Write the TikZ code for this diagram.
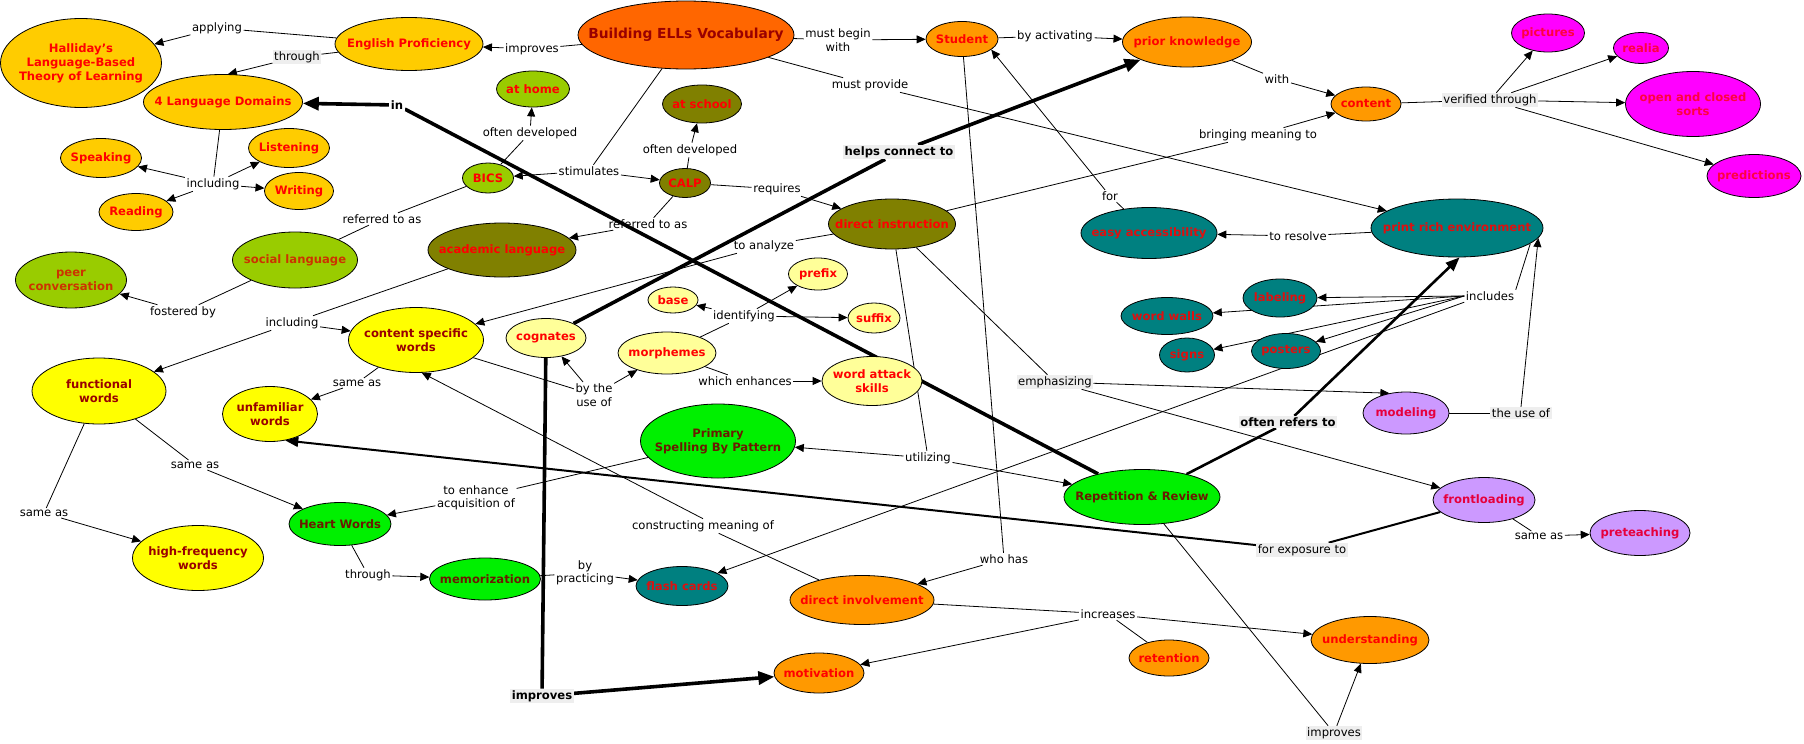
\documentclass[tikz,border=0pt]{standalone}
\usepackage{fontspec}
\setmainfont{DejaVu Sans}
\usetikzlibrary{shapes.geometric,arrows.meta,backgrounds}

\definecolor{cgold}{HTML}{FFCC00}
\definecolor{corange}{HTML}{FF9900}
\definecolor{cdeep}{HTML}{FF6600}
\definecolor{clime}{HTML}{99CC00}
\definecolor{colive}{HTML}{808000}
\definecolor{cyellow}{HTML}{FFFF00}
\definecolor{cpale}{HTML}{FFFF99}
\definecolor{cgreen}{HTML}{00F000}
\definecolor{cteal}{HTML}{008080}
\definecolor{cmagenta}{HTML}{FF00FF}
\definecolor{cpurple}{HTML}{CC99FF}
\definecolor{tred}{HTML}{FF0000}
\definecolor{tmaroon}{HTML}{990000}
\definecolor{tbrown}{HTML}{6B1A00}
\definecolor{tsoc}{HTML}{CC3300}
\definecolor{tteal}{HTML}{DD1010}
\definecolor{tpink}{HTML}{FF0040}
\definecolor{tcrim}{HTML}{E6003C}
\definecolor{lgray}{HTML}{EEEEEE}

\tikzset{
  concept/.style={ellipse, draw=black, line width=0.8pt, inner sep=0pt},
  sz/.style 2 args={minimum width=#1, minimum height=#2},
  goldc/.style={concept, fill=cgold},
  orangec/.style={concept, fill=corange},
  limec/.style={concept, fill=clime},
  olivec/.style={concept, fill=colive},
  yellowc/.style={concept, fill=cyellow},
  palec/.style={concept, fill=cpale},
  greenc/.style={concept, fill=cgreen},
  tealc/.style={concept, fill=cteal},
  magentac/.style={concept, fill=cmagenta},
  purplec/.style={concept, fill=cpurple},
  ctext/.style={font=\bfseries\fontsize{11.6}{14}\selectfont, align=center, inner sep=0pt},
  redtxt/.style={ctext, text=tred},
  maroontxt/.style={ctext, text=tmaroon},
  browntxt/.style={ctext, text=tbrown},
  soctxt/.style={ctext, text=tsoc},
  tealtxt/.style={ctext, text=tteal},
  pinktxt/.style={ctext, text=tpink},
  crimtxt/.style={ctext, text=tcrim},
  link/.style={font=\fontsize{11.6}{13.5}\selectfont, align=center, inner sep=1.5pt},
  linkbg/.style={link, fill=lgray},
  linkbold/.style={linkbg, font=\bfseries\fontsize{11.6}{13.5}\selectfont},
  arr/.style={-{Triangle[length=9pt,width=8pt]}},
  heavy/.style={line width=3.6pt},
  heavyarr/.style={heavy, -{Triangle[length=16pt,width=13pt]}},
}

\begin{document}
\begin{tikzpicture}[x=1pt,y=-1pt]
\useasboundingbox (0,0) rectangle (1804,744);

% concepts
\node[goldc, sz={161}{89}] (hall) at (81,63) {}; \node[redtxt] at (hall) {Halliday's\\Language-Based\\Theory of Learning};
\node[goldc, sz={148}{53}] (ep) at (409,44) {}; \node[redtxt] at (ep) {English Proficiency};
\node[goldc, sz={159}{55}] (lang4) at (223,102) {}; \node[redtxt] at (lang4) {4 Language Domains};
\node[goldc, sz={81}{39}] (speak) at (101,158) {}; \node[redtxt] at (speak) {Speaking};
\node[goldc, sz={81}{39}] (listen) at (289,148) {}; \node[redtxt] at (listen) {Listening};
\node[goldc, sz={69}{37}] (write) at (299,191) {}; \node[redtxt] at (write) {Writing};
\node[goldc, sz={74}{37}] (read) at (136,212) {}; \node[redtxt] at (read) {Reading};

\node[limec, sz={125}{56}] (social) at (295,260) {}; \node[soctxt] at (social) {social language};
\node[limec, sz={111}{56}] (peer) at (71,280) {}; \node[soctxt] at (peer) {peer\\conversation};
\node[limec, sz={73}{36}] (athome) at (533,89) {}; \node[redtxt] at (athome) {at home};
\node[limec, sz={51}{30}] (bics) at (488,178) {}; \node[redtxt] at (bics) {BICS};

\node[olivec, sz={51}{29}] (calp) at (685,183) {}; \node[redtxt] at (calp) {CALP};
\node[olivec, sz={79}{38}] (atschool) at (702,104) {}; \node[redtxt] at (atschool) {at school};
\node[olivec, sz={148}{54}] (acad) at (502,250) {}; \node[redtxt] at (acad) {academic language};
\node[olivec, sz={127}{50}] (dinst) at (892,224) {}; \node[redtxt] at (dinst) {direct instruction};

\node[yellowc, sz={135}{65}] (csw) at (416,340) {}; \node[maroontxt] at (csw) {content specific\\words};
\node[yellowc, sz={134}{66}] (funct) at (99,391) {}; \node[maroontxt] at (funct) {functional\\words};
\node[yellowc, sz={95}{55}] (unfam) at (270,414) {}; \node[maroontxt] at (unfam) {unfamiliar\\words};
\node[yellowc, sz={131}{65}] (hfreq) at (198,558) {}; \node[maroontxt] at (hfreq) {high-frequency\\words};

\node[greenc, sz={102}{43}] (heart) at (340,524) {}; \node[browntxt] at (heart) {Heart Words};
\node[greenc, sz={111}{42}] (memo) at (485,579) {}; \node[browntxt] at (memo) {memorization};
\node[greenc, sz={155}{74}] (psbp) at (718,441) {}; \node[browntxt] at (psbp) {Primary\\Spelling By Pattern};
\node[greenc, sz={156}{55}] (rr) at (1142,497) {}; \node[browntxt] at (rr) {Repetition \& Review};

\node[palec, sz={80}{39}] (cogn) at (546,338) {}; \node[redtxt] at (cogn) {cognates};
\node[palec, sz={98}{42}] (morph) at (667,353) {}; \node[redtxt] at (morph) {morphemes};
\node[palec, sz={50}{26}] (base) at (673,300) {}; \node[redtxt] at (base) {base};
\node[palec, sz={59}{32}] (prefix) at (818,274) {}; \node[redtxt] at (prefix) {prefix};
\node[palec, sz={52}{30}] (suffix) at (874,318) {}; \node[redtxt] at (suffix) {suffix};
\node[palec, sz={100}{49}] (wattack) at (872,381) {}; \node[redtxt] at (wattack) {word attack\\skills};

\node[concept, fill=cdeep, sz={216}{68}] (bev) at (686,35) {};
\node[ctext, text=tmaroon, font=\bfseries\fontsize{13.8}{16}\selectfont] at (bev) {Building ELLs Vocabulary};
\node[orangec, sz={72}{35}] (student) at (962,39) {}; \node[redtxt] at (student) {Student};
\node[orangec, sz={129}{50}] (prior) at (1187,42) {}; \node[redtxt] at (prior) {prior knowledge};
\node[orangec, sz={70}{34}] (content) at (1366,104) {}; \node[redtxt] at (content) {content};
\node[orangec, sz={144}{49}] (dinv) at (862,600) {}; \node[redtxt] at (dinv) {direct involvement};
\node[orangec, sz={90}{40}] (motiv) at (819,673) {}; \node[redtxt] at (motiv) {motivation};
\node[orangec, sz={80}{36}] (ret) at (1169,658) {}; \node[redtxt] at (ret) {retention};
\node[orangec, sz={118}{47}] (underst) at (1370,640) {}; \node[redtxt] at (underst) {understanding};

\node[magentac, sz={73}{38}] (pictures) at (1548,33) {}; \node[pinktxt] at (pictures) {pictures};
\node[magentac, sz={55}{31}] (realia) at (1641,48) {}; \node[pinktxt] at (realia) {realia};
\node[magentac, sz={135}{65}] (sorts) at (1693,104) {}; \node[pinktxt] at (sorts) {open and closed\\sorts};
\node[magentac, sz={94}{43}] (predict) at (1754,176) {}; \node[pinktxt] at (predict) {predictions};

\node[tealc, sz={136}{51}] (easy) at (1149,233) {}; \node[tealtxt] at (easy) {easy accessibility};
\node[tealc, sz={172}{58}] (prich) at (1457,228) {}; \node[tealtxt] at (prich) {print rich environment};
\node[tealc, sz={74}{38}] (labeling) at (1280,298) {}; \node[tealtxt] at (labeling) {labeling};
\node[tealc, sz={92}{37}] (wwalls) at (1167,316) {}; \node[tealtxt] at (wwalls) {word walls};
\node[tealc, sz={55}{34}] (signs) at (1187,355) {}; \node[tealtxt] at (signs) {signs};
\node[tealc, sz={69}{35}] (posters) at (1286,351) {}; \node[tealtxt] at (posters) {posters};
\node[tealc, sz={92}{39}] (flash) at (682,586) {}; \node[tealtxt] at (flash) {flash cards};

\node[purplec, sz={86}{42}] (modeling) at (1406,413) {}; \node[crimtxt] at (modeling) {modeling};
\node[purplec, sz={102}{45}] (frontl) at (1484,500) {}; \node[crimtxt] at (frontl) {frontloading};
\node[purplec, sz={100}{45}] (pretch) at (1640,533) {}; \node[crimtxt] at (pretch) {preteaching};

% linking words
\node[link] (lapply) at (217,28) {applying};
\node[linkbg] (lthr1) at (297,57) {through};
\node[link] (limp) at (532,49) {improves};
\node[linkbold, fill=white] (lin) at (397,105) {in};
\node[link] (linc1) at (213,184) {including};
\node[link] (lref1) at (382,219) {referred to as};
\node[link] (lfost) at (183,312) {fostered by};
\node[link] (linc2) at (292,323) {including};
\node[link] (ldev1) at (530,133) {often developed};
\node[link] (lstim) at (589,171) {stimulates};
\node[link] (ldev2) at (690,150) {often developed};
\node[link] (lreq) at (777,189) {requires};
\node[link] (lref2) at (648,224) {referred to as};
\node[link] (lana) at (764,246) {to analyze};
\node[link] (lident) at (744,316) {identifying};
\node[link] (luse2) at (594,395) {by the\\use of};
\node[link] (lwhich) at (745,381) {which enhances};
\node[linkbold] (lhelp) at (899,152) {helps connect to};
\node[link] (lbegin) at (838,40) {must begin\\with};
\node[link] (lact) at (1055,36) {by activating};
\node[link] (lwith) at (1277,79) {with};
\node[link] (lprov) at (870,85) {must provide};
\node[link] (lbring) at (1258,135) {bringing meaning to};
\node[link] (lfor) at (1110,196) {for};
\node[link] (lres) at (1298,236) {to resolve};
\node[linkbg] (lver) at (1490,100) {verified through};
\node[link] (lincl) at (1490,296) {includes};
\node[linkbg] (luse) at (1521,413) {the use of};
\node[link] (lsame4) at (1539,536) {same as};
\node[linkbg] (lexp) at (1302,550) {for exposure to};
\node[link] (lsame1) at (357,383) {same as};
\node[link] (lsame2) at (195,465) {same as};
\node[link] (lsame3) at (44,513) {same as};
\node[link] (lenh) at (476,498) {to enhance\\acquisition of};
\node[link] (lthr2) at (368,575) {through};
\node[link] (lprac) at (585,573) {by\\practicing};
\node[link] (lutil) at (928,458) {utilizing};
\node[linkbold] (loft) at (1288,422) {often refers to};
\node[linkbg] (lemph) at (1055,382) {emphasizing};
\node[link] (lwho) at (1004,559) {who has};
\node[link] (lcons) at (703,526) {constructing meaning of};
\node[link] (linc) at (1108,614) {increases};
\node[linkbg] (limpr) at (1334,733) {improves};
\node[linkbold] (limpb) at (542,696) {improves};

% connectors
\begin{pgfonlayer}{background}
\fill[white] (0,0) rectangle (1804,744);
\begin{scope}[line width=0.8pt]
  \draw (ep) -- (lapply); \draw[arr] (lapply) -- (hall);
  \draw (ep) -- (lthr1); \draw[arr] (lthr1) -- (lang4.80);
  \draw (bev) -- (limp); \draw[arr] (limp) -- (ep);
  \draw (lang4) -- (linc1);
  \draw[arr] (linc1) -- (speak); \draw[arr] (linc1) -- (listen);
  \draw[arr] (linc1) -- (write); \draw[arr] (linc1) -- (read);
  \draw (bics) -- (lref1); \draw (lref1) -- (social);
  \draw (social) -- (lfost); \draw[arr] (lfost) -- (peer);
  \draw (acad) -- (linc2); \draw[arr] (linc2) -- (csw); \draw[arr] (linc2) -- (funct);
  \draw (bics) -- (ldev1); \draw[arr] (ldev1) -- (athome);
  \draw (bev) -- (lstim); \draw[arr] (lstim) -- (bics); \draw[arr] (lstim) -- (calp);
  \draw (calp) -- (ldev2); \draw[arr] (ldev2) -- (atschool);
  \draw (calp) -- (lreq); \draw[arr] (lreq) -- (dinst);
  \draw (calp) -- (lref2); \draw[arr] (lref2) -- (acad);
  \draw (dinst) -- (lana); \draw[arr] (lana) -- (csw);
  \draw (morph) -- (lident); \draw[arr] (lident) -- (base);
  \draw[arr] (lident) -- (prefix); \draw[arr] (lident) -- (suffix);
  \draw (csw) -- (luse2); \draw[arr] (luse2) -- (cogn); \draw[arr] (luse2) -- (morph);
  \draw (morph) -- (lwhich); \draw[arr] (lwhich) -- (wattack);
  \draw (bev) -- (lbegin); \draw[arr] (lbegin) -- (student);
  \draw (student) -- (lact); \draw[arr] (lact) -- (prior);
  \draw (prior) -- (lwith); \draw[arr] (lwith) -- (content);
  \draw (bev) -- (lprov); \draw[arr] (lprov) -- (prich);
  \draw (dinst) -- (lbring); \draw[arr] (lbring) -- (content);
  \draw (easy) -- (lfor); \draw[arr] (lfor) -- (student.-20);
  \draw (prich) -- (lres); \draw[arr] (lres) -- (easy);
  \draw (content) -- (lver);
  \draw[arr] (lver) -- (pictures); \draw[arr] (lver) -- (realia);
  \draw[arr] (lver) -- (sorts); \draw[arr] (lver) -- (predict);
  \draw (prich.-12) -- (lincl.north east);
  \draw[arr] (lincl.west) -- (labeling); \draw[arr] (lincl.west) -- (wwalls);
  \draw[arr] (lincl.west) -- (signs); \draw[arr] (lincl.west) -- (posters);
  \draw[arr] (lincl.south west) -- (flash);
  \draw (modeling) -- (luse); \draw[arr] (luse.north) -- (prich.-7);
  \draw (frontl) -- (lsame4); \draw[arr] (lsame4) -- (pretch);
  \draw (csw) -- (lsame1); \draw[arr] (lsame1) -- (unfam);
  \draw (funct) -- (lsame2); \draw[arr] (lsame2) -- (heart);
  \draw (funct) -- (lsame3); \draw[arr] (lsame3) -- (hfreq);
  \draw (psbp) -- (lenh); \draw[arr] (lenh) -- (heart);
  \draw (heart) -- (lthr2); \draw[arr] (lthr2) -- (memo);
  \draw (memo) -- (lprac); \draw[arr] (lprac) -- (flash);
  \draw (dinst) -- (lutil); \draw[arr] (lutil) -- (psbp); \draw[arr] (lutil) -- (rr);
  \draw (dinst) -- (lemph); \draw[arr] (lemph) -- (modeling.130); \draw[arr] (lemph) -- (frontl);
  \draw (student) -- (lwho); \draw[arr] (lwho) -- (dinv);
  \draw (dinv) -- (lcons); \draw[arr] (lcons.north) -- (csw.-80);
  \draw (dinv) -- (linc); \draw[arr] (linc) -- (motiv);
  \draw[arr] (linc) -- (underst); \draw (linc) -- (ret);
  \draw (rr) -- (limpr); \draw[arr] (limpr) -- (underst);
\end{scope}
% heavy connectors
\draw[heavy] (rr) -- (lin); \draw[heavyarr] (lin) -- (lang4);
\draw[heavy] (cogn) -- (lhelp); \draw[heavyarr] (lhelp) -- (prior);
\draw[heavy] (cogn) -- (limpb); \draw[heavyarr] (limpb) -- (motiv);
\draw[line width=2.6pt] (rr) -- (loft);
\draw[line width=2.6pt, -{Triangle[length=14pt,width=11pt]}] (loft) -- (prich.-85);
\draw[line width=2pt] (frontl) -- (lexp);
\draw[line width=2pt, -{Triangle[length=13pt,width=10pt]}] (lexp) -- (unfam.-60);
\end{pgfonlayer}

\end{tikzpicture}
\end{document}
